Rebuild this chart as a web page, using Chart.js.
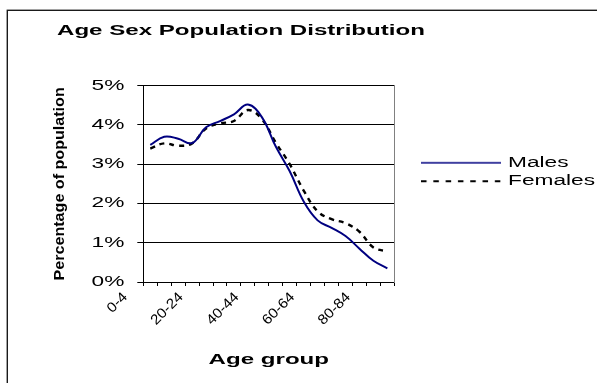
<!DOCTYPE html>
<html>
<head>
<meta charset="utf-8">
<title>Age Sex Population Distribution</title>
<script src="https://cdn.jsdelivr.net/npm/chart.js@4.4.1/dist/chart.umd.min.js"></script>
<style>
  html, body { margin: 0; padding: 0; background: #ffffff; }
  canvas { display: block; }
</style>
</head>
<body>
<canvas id="chart" width="597" height="383"></canvas>
<script>
// Five-year age groups
const ageGroups = ['0-4', '5-9', '10-14', '15-19', '20-24', '25-29', '30-34', '35-39',
  '40-44', '45-49', '50-54', '55-59', '60-64', '65-69', '70-74', '75-79', '80-84', '85+'];

// Share of the population in each age group (%)
const males = [3.49, 3.70, 3.65, 3.54, 3.94, 4.10, 4.27, 4.52, 4.20, 3.45, 2.82, 2.05,
  1.57, 1.38, 1.17, 0.85, 0.54, 0.35];
const females = [3.40, 3.53, 3.47, 3.53, 3.91, 4.04, 4.10, 4.38, 4.15, 3.55, 3.00, 2.33,
  1.80, 1.60, 1.50, 1.28, 0.88, 0.78];

// Y axis range and step (%)
const yTicks = { min: 0, max: 5, step: 1 };
// Only every fourth age group gets a label on the axis
const labelEvery = 4;

const FONT = 'Liberation Sans';

// Wide lettering: horizontal text is drawn stretched sideways, rotated text a little longer.
function widenText(ctx) {
  const fill = ctx.fillText.bind(ctx);
  const measure = ctx.measureText.bind(ctx);
  const flatStretch = () => (/bold/.test(ctx.font) ? 1.72 : 1.62);
  ctx.fillText = function (text, x, y, maxWidth) {
    const m = ctx.getTransform();
    const angle = Math.abs(Math.atan2(m.b, m.a) * 180 / Math.PI);
    let s;
    if (angle < 1) s = flatStretch();
    else if (Math.abs(angle - 90) < 1) s = 1.15;
    else s = 1.1;
    ctx.save();
    ctx.translate(x, y);
    ctx.scale(s, 1);
    if (maxWidth === undefined) fill(text, 0, 0);
    else fill(text, 0, 0, maxWidth / s);
    ctx.restore();
  };
  ctx.measureText = function (text) {
    const r = measure(text);
    return {
      width: r.width * flatStretch(),
      actualBoundingBoxAscent: r.actualBoundingBoxAscent,
      actualBoundingBoxDescent: r.actualBoundingBoxDescent,
      actualBoundingBoxLeft: r.actualBoundingBoxLeft,
      actualBoundingBoxRight: r.actualBoundingBoxRight
    };
  };
}

// Legend swatch: a short line sample in the series' colour and dash
function swatch(color, width, dash) {
  const c = document.createElement('canvas');
  c.width = 80;
  c.height = 4;
  const g = c.getContext('2d');
  g.strokeStyle = color;
  g.lineWidth = width;
  g.setLineDash(dash);
  g.beginPath();
  g.moveTo(0, 2);
  g.lineTo(80, 2);
  g.stroke();
  return c;
}

// White page with the chart frame
const framePlugin = {
  id: 'frame',
  beforeDraw(chart) {
    const c = chart.ctx;
    c.save();
    c.fillStyle = '#ffffff';
    c.fillRect(0, 0, chart.width, chart.height);
    c.strokeStyle = '#1a1a1a';
    c.lineWidth = 1.4;
    c.strokeRect(7.3, 10.3, 800, 600);
    c.restore();
  }
};

const canvas = document.getElementById('chart');
const ctx = canvas.getContext('2d');
widenText(ctx);

new Chart(ctx, {
  type: 'line',
  data: {
    labels: ageGroups,
    datasets: [
      {
        label: 'Males',
        data: males,
        borderColor: '#000080',
        backgroundColor: '#000080',
        borderWidth: 2,
        pointRadius: 0,
        pointStyle: swatch('#000080', 1.6, []),
        tension: 0.4,
        fill: false
      },
      {
        label: 'Females',
        data: females,
        borderColor: '#000000',
        backgroundColor: '#000000',
        borderWidth: 2.4,
        borderDash: [5, 5],
        pointRadius: 0,
        pointStyle: swatch('#000000', 2, [5.5, 6.8]),
        tension: 0.4,
        fill: false
      }
    ]
  },
  options: {
    responsive: false,
    devicePixelRatio: 1,
    animation: false,
    layout: { padding: { left: 57, right: -8, top: 0, bottom: 11 } },
    plugins: {
      title: {
        display: true,
        text: 'Age Sex Population Distribution',
        align: 'start',
        color: '#000000',
        font: { family: FONT, size: 14, weight: 'bold', lineHeight: 1.2 },
        padding: { top: 22.75, bottom: 46.15 }
      },
      legend: {
        display: true,
        position: 'right',
        align: 'start',
        maxWidth: 300,
        title: { display: true, text: '', font: { size: 12, lineHeight: 1.2 }, padding: { top: 137, bottom: 0 } },
        labels: {
          usePointStyle: true,
          pointStyleWidth: 80,
          boxHeight: 14,
          padding: 4.4,
          color: '#000000',
          font: { family: FONT, size: 14 }
        }
      },
      tooltip: { enabled: false }
    },
    scales: {
      x: {
        type: 'category',
        offset: true,
        grid: {
          display: true,
          offset: true,
          drawOnChartArea: false,
          drawTicks: true,
          tickLength: 4,
          tickColor: '#000000',
          tickWidth: 1
        },
        border: { display: true, color: '#000000', width: 1 },
        ticks: {
          autoSkip: false,
          minRotation: 45,
          maxRotation: 45,
          padding: 3,
          labelOffset: -25,
          color: '#000000',
          font: { family: FONT, size: 14 },
          callback(value, index) {
            return index % labelEvery === 0 ? ageGroups[index] : '';
          }
        },
        title: {
          display: true,
          text: 'Age group',
          color: '#000000',
          font: { family: FONT, size: 14, weight: 'bold', lineHeight: 1.2 },
          padding: { top: 0, bottom: 3 }
        },
        afterFit(scale) { scale.height = 90; }
      },
      y: {
        min: yTicks.min,
        max: yTicks.max,
        grid: {
          color: '#000000',
          lineWidth: 1,
          drawTicks: true,
          tickLength: 6,
          tickColor: '#000000'
        },
        border: { display: true, color: '#000000', width: 1 },
        ticks: {
          stepSize: yTicks.step,
          padding: 13,
          color: '#000000',
          font: { family: FONT, size: 14 },
          callback(value) { return value + '%'; }
        },
        title: {
          display: true,
          text: 'Percentage of population',
          color: '#000000',
          font: { family: FONT, size: 14, weight: 'bold', lineHeight: 1.2 },
          padding: { top: -5.1, bottom: 0 }
        },
        afterFit(scale) { scale.width = 86.3; }
      },
      edge: {
        type: 'linear',
        position: 'right',
        display: true,
        ticks: { display: false },
        grid: { drawOnChartArea: false, drawTicks: false },
        border: { display: true, color: '#808080', width: 1 },
        afterFit(scale) { scale.width = 22.3; }
      }
    }
  },
  plugins: [framePlugin]
});
</script>
</body>
</html>
